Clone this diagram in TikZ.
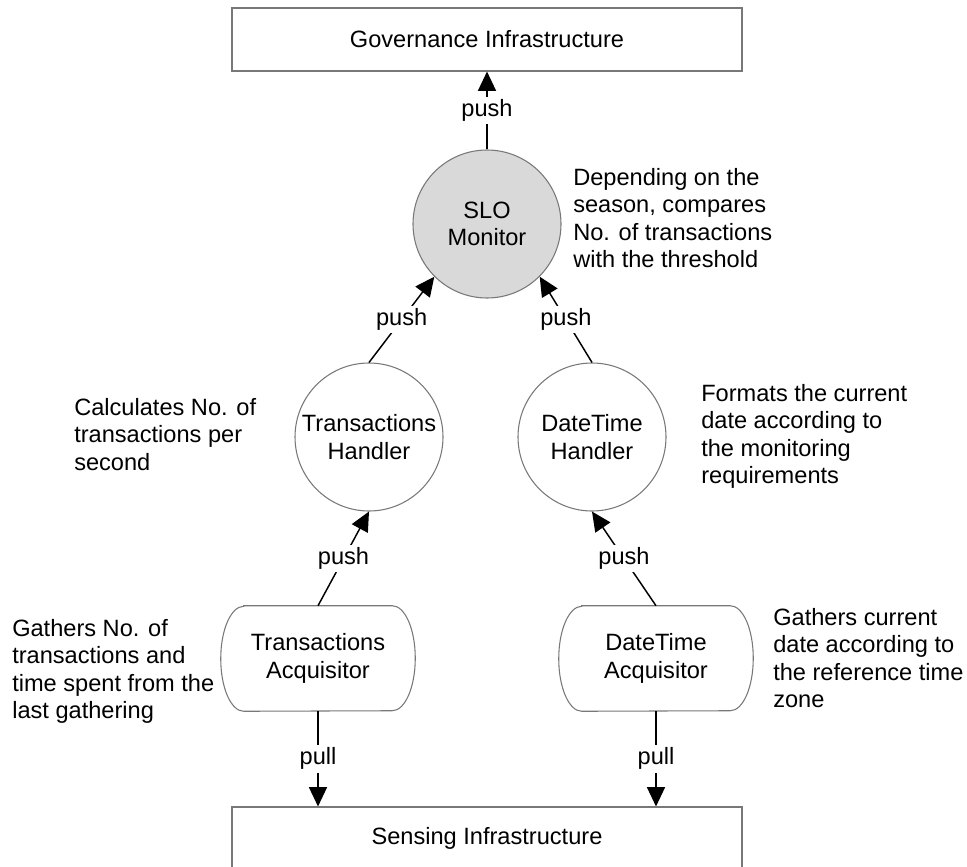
\documentclass[tikz,border=0pt]{standalone}
\usepackage{fontspec}
\setmainfont{Liberation Sans}
\usetikzlibrary{arrows.meta}
\definecolor{monfill}{RGB}{217,217,217}
\definecolor{outline}{RGB}{120,120,120}

\begin{document}
\begin{tikzpicture}[x=0.75pt,y=-0.75pt,
  every node/.style={font=\fontsize{17.7pt}{20.6pt}\selectfont},
  infra/.style={draw=outline, line width=0.8pt, minimum width=382.5pt, inner sep=0pt},
  proc/.style={circle, draw=outline, line width=0.8pt, minimum size=111pt, inner sep=0pt, align=center},
  acq/.style={rectangle, minimum width=111pt, minimum height=78.75pt, inner sep=0pt, align=center},
  flow/.style={draw=black, line width=1.1pt, -{Triangle[length=14.5pt,width=13.5pt]}},
  lbl/.style={fill=white, inner sep=2pt},
  note/.style={anchor=north west, align=left, inner sep=0pt}]

\path[use as bounding box, clip] (0,0) rectangle (967,867);

% infrastructure layers
\node[infra, minimum height=47.25pt] (gov) at (487,39.5) {Governance Infrastructure};
\node[infra, minimum height=46.5pt] (sense) at (487,838) {Sensing Infrastructure};

% monitor and handlers
\node[proc, fill=monfill] (slo) at (487,224) {SLO\\Monitor};
\node[proc] (th) at (369,437) {Transactions\\Handler};
\node[proc] (dh) at (592,437) {DateTime\\Handler};

% acquisitors (flat top and bottom, bulging sides)
\node[acq] (ta) at (318,658.5) {Transactions\\Acquisitor};
\node[acq] (da) at (656,658.5) {DateTime\\Acquisitor};
\foreach \n in {ta,da}
  \draw[draw=outline, line width=0.8pt]
    (\n.north west) -- (\n.north east)
    arc[start angle=90, end angle=-90, x radius=17.25pt, y radius=39.375pt]
    -- (\n.south west)
    arc[start angle=270, end angle=90, x radius=17.25pt, y radius=39.375pt]
    -- cycle;

% data flows
\draw[flow] (slo.north) -- node[lbl]{push} (gov.south);
\draw[flow] (th.north) -- node[lbl]{push} (slo.south west);
\draw[flow] (dh.north) -- node[lbl]{push} (slo.south east);
\draw[flow] (ta.north) -- node[lbl]{push} (th.south);
\draw[flow] (da.north) -- node[lbl]{push} (dh.south);
\draw[flow] (ta.south) -- node[lbl]{pull} (ta.south |- sense.north);
\draw[flow] (da.south) -- node[lbl]{pull} (da.south |- sense.north);

% descriptions
\node[note] (slonote) at (573,168) {Depending on the\\season, compares\\No. of transactions\\with the threshold};
\node[note] (thnote) at (74,398) {Calculates No. of\\transactions per\\second};
\node[note] (dhnote) at (701,384) {Formats the current\\date according to\\the monitoring\\requirements};
\node[note] (tanote) at (12,619) {Gathers No. of\\transactions and\\time spent from the\\last gathering};
\node[note] (danote) at (773,608) {Gathers current\\date according to\\the reference time\\zone};

\end{tikzpicture}
\end{document}
